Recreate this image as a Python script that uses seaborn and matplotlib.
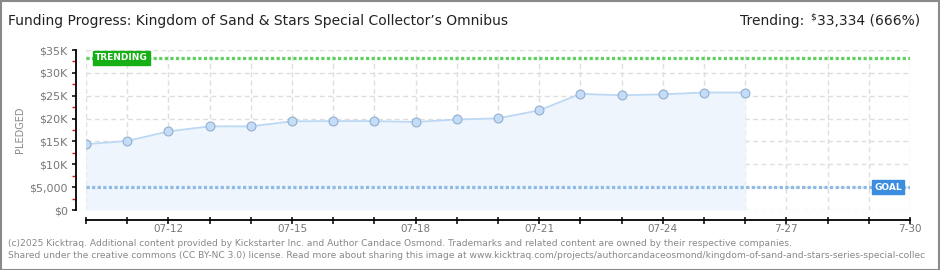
import matplotlib
matplotlib.use("Agg")
import matplotlib.pyplot as plt
from matplotlib import font_manager
from matplotlib.patches import Rectangle
from matplotlib.ticker import FixedLocator, MultipleLocator
import seaborn as sns
import pandas as pd

# ---------------- data ----------------
days = [10, 11, 12, 13, 14, 15, 16, 17, 18, 19, 20, 21, 22, 23, 24, 25, 26]
pledged = [14400, 15100, 17200, 18300, 18300, 19400, 19450, 19450, 19250,
           19800, 20050, 21800, 25400, 25100, 25300, 25700, 25700]
goal = 5000
trending = 33334
x_tick_days = [12, 15, 18, 21, 24, 27, 30]
x_tick_labels = ["07-12", "07-15", "07-18", "07-21", "07-24", "7-27", "7-30"]
y_ticks = [0, 5000, 10000, 15000, 20000, 25000, 30000, 35000]
y_tick_labels = ["$0", "$5,000", "$10K", "$15K", "$20K", "$25K", "$30K", "$35K"]
title = "Funding Progress: Kingdom of Sand & Stars Special Collector\u2019s Omnibus"
footer1 = ("(c)2025 Kicktraq. Additional content provided by Kickstarter Inc. and Author Candace Osmond. "
           "Trademarks and related content are owned by their respective companies.")
footer2 = ("Shared under the creative commons (CC BY-NC 3.0) license. Read more about sharing this image at "
           "www.kicktraq.com/projects/authorcandaceosmond/kingdom-of-sand-and-stars-series-special-collec")

df = pd.DataFrame({"day": days, "pledged": pledged})

# ---------------- style ----------------
sns.set_theme(style="white")
names = {f.name for f in font_manager.fontManager.ttflist}
fam = "DejaVu Sans"
for cand in ["Liberation Sans Narrow", "DejaVu Sans Condensed"]:
    if cand in names:
        fam = cand
        break
plt.rcParams["font.family"] = [fam, "DejaVu Sans"]
plt.rcParams["text.parse_math"] = False

W, H = 940, 270
PX = 72 / 100  # points per pixel
fig = plt.figure(figsize=(W / 100, H / 100), dpi=100)
fig.patch.set_facecolor("white")
ax = fig.add_axes([86 / W, 1 - 210 / H, (910 - 86) / W, 160 / H])
ax.set_facecolor("white")

# grid
for d in range(10, 31):
    ax.plot([d, d], [0, 35000], color="#dedede", lw=1, ls=(0, (3.5, 2.5)), zorder=0)
for yv in y_ticks:
    ax.plot([10, 30], [yv, yv], color="#dedede", lw=1, ls=(0, (3.5, 2.5)), zorder=0)

# area + line
ax.fill_between(df["day"], df["pledged"], color="#eef5fd", zorder=1, lw=0)
sns.lineplot(data=df, x="day", y="pledged", ax=ax, color="#bcd8f4", lw=1.3,
             marker="o", markersize=6.4, markerfacecolor="#c3ddf8",
             markeredgecolor="#93aecd", markeredgewidth=0.8, zorder=4)

# trending and goal lines
ax.axhline(trending, color="#5fcf5f", lw=2.3, ls=(0, (1.0, 0.75)), zorder=3)
ax.axhline(goal, color="#8ebae6", lw=2.3, ls=(0, (1.0, 0.75)), zorder=3)
ax.text(10.22, trending, "TRENDING", color="white", fontsize=6.5, fontweight="bold",
        ha="left", va="center", zorder=6, family=["DejaVu Sans"],
        bbox=dict(boxstyle="square,pad=0.28", fc="#16b016", ec="#16b016"))
ax.text(29.8, goal, "GOAL", color="white", fontsize=6.5, fontweight="bold",
        ha="right", va="center", zorder=6, family=["DejaVu Sans"],
        bbox=dict(boxstyle="square,pad=0.28", fc="#3a8ddf", ec="#3a8ddf"))

ax.set_xlim(10, 30)
ax.set_ylim(0, 35000)
ax.set_xlabel("")
ax.set_ylabel("")

for s in ["top", "right"]:
    ax.spines[s].set_visible(False)
ax.spines["left"].set_position(("outward", 10 * PX))
ax.spines["bottom"].set_position(("outward", 10 * PX))
for s in ["left", "bottom"]:
    ax.spines[s].set_color("black")
    ax.spines[s].set_linewidth(1.3)

ax.xaxis.set_major_locator(FixedLocator(x_tick_days))
ax.set_xticklabels(x_tick_labels)
ax.xaxis.set_minor_locator(MultipleLocator(1))
ax.tick_params(axis="x", which="both", direction="inout", length=7 * PX, width=1.1,
               color="black", labelsize=7.5, labelcolor="#777777", pad=0, bottom=True)
ax.yaxis.set_major_locator(FixedLocator(y_ticks))
ax.set_yticklabels(y_tick_labels)
ax.yaxis.set_minor_locator(FixedLocator([2500 + 5000 * i for i in range(7)]))
ax.tick_params(axis="y", which="major", direction="out", length=4 * PX, width=1.1,
               color="black", labelsize=8, labelcolor="#777777", pad=3, left=True)
ax.tick_params(axis="y", which="minor", direction="out", length=4 * PX, width=1,
               color="#e01010", left=True)

fig.text(20 / W, 1 - 130 / H, "PLEDGED", rotation=90, ha="center", va="center",
         fontsize=7, color="#888888")

# title
fig.text(8 / W, 1 - 21 / H, title, ha="left", va="center", fontsize=10, color="#222222")
renderer = fig.canvas.get_renderer()
t3 = fig.text(920 / W, 1 - 21 / H, "33,334 (666%)", ha="right", va="center",
              fontsize=10, color="#222222")
bb = t3.get_window_extent(renderer)
t2 = fig.text((bb.x0 - 1) / W, 1 - 17 / H, "$", ha="right", va="center",
              fontsize=6.5, color="#222222")
bb2 = t2.get_window_extent(renderer)
fig.text((bb2.x0 - 6) / W, 1 - 21 / H, "Trending:", ha="right", va="center",
         fontsize=10, color="#222222")

# footer
fig.text(8 / W, 1 - 243 / H, footer1, ha="left", va="center", fontsize=6.6, color="#888888")
fig.text(8 / W, 1 - 256 / H, footer2, ha="left", va="center", fontsize=6.6, color="#888888")

# frame
fig.patches.append(Rectangle((0.5 / W, 0.5 / H), 1 - 1.5 / W, 1 - 1.5 / H,
                             transform=fig.transFigure, fill=False,
                             ec="#8a8a8a", lw=1.5))

fig.savefig("out.png", dpi=100)
